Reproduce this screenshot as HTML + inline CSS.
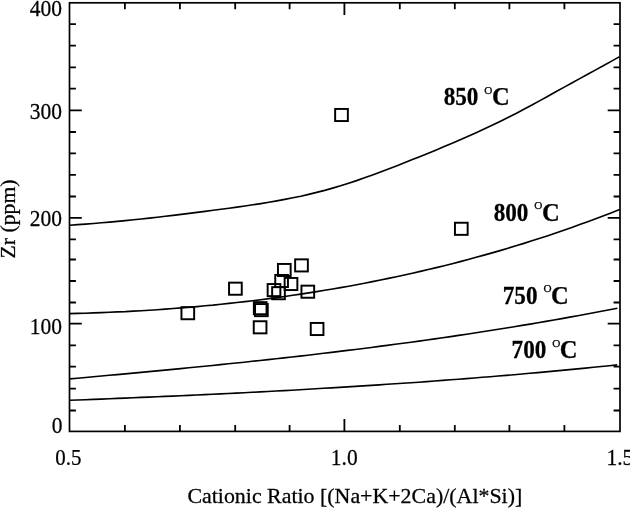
<!DOCTYPE html><html><head><meta charset="utf-8"><title>Zr vs Cationic Ratio</title>
<style>html,body{margin:0;padding:0;background:#fff;}svg{display:block;}text{font-family:"Liberation Serif",serif;fill:#000;stroke:#000;stroke-width:0.25px;}</style></head><body>
<svg width="630" height="508" viewBox="0 0 630 508">
<rect width="630" height="508" fill="#fff"/>
<rect x="69.5" y="2.8" width="550.5" height="428.59999999999997" fill="none" stroke="#000" stroke-width="1.7"/>
<path d="M69.5,410.50h6.4M620.0,410.50h-6.4M69.5,388.60h6.4M620.0,388.60h-6.4M69.5,366.60h6.4M620.0,366.60h-6.4M69.5,345.30h6.4M620.0,345.30h-6.4M69.5,323.60h12.3M620.0,323.60h-12.3M69.5,302.50h6.4M620.0,302.50h-6.4M69.5,281.00h6.4M620.0,281.00h-6.4M69.5,259.50h6.4M620.0,259.50h-6.4M69.5,239.30h6.4M620.0,239.30h-6.4M69.5,217.90h12.3M620.0,217.90h-12.3M69.5,196.50h6.4M620.0,196.50h-6.4M69.5,174.90h6.4M620.0,174.90h-6.4M69.5,153.30h6.4M620.0,153.30h-6.4M69.5,132.00h6.4M620.0,132.00h-6.4M69.5,110.30h12.3M620.0,110.30h-12.3M69.5,88.70h6.4M620.0,88.70h-6.4M69.5,67.40h6.4M620.0,67.40h-6.4M69.5,45.70h6.4M620.0,45.70h-6.4M69.5,24.20h6.4M620.0,24.20h-6.4M124.90,431.4v-6.4M124.90,2.8v6.4M179.90,431.4v-6.4M179.90,2.8v6.4M235.20,431.4v-6.4M235.20,2.8v6.4M289.60,431.4v-6.4M289.60,2.8v6.4M344.40,431.4v-12.3M344.40,2.8v12.3M399.80,431.4v-6.4M399.80,2.8v6.4M454.80,431.4v-6.4M454.80,2.8v6.4M509.40,431.4v-6.4M509.40,2.8v6.4M564.40,431.4v-6.4M564.40,2.8v6.4" fill="none" stroke="#000" stroke-width="1.8"/>
<path d="M69.6,225.2 L77.6,224.6 L85.5,224.1 L93.5,223.5 L101.5,222.8 L109.5,222.1 L117.4,221.4 L125.4,220.6 L133.4,219.8 L141.3,219.0 L149.3,218.1 L157.3,217.2 L165.3,216.3 L173.2,215.4 L181.2,214.4 L189.2,213.4 L197.1,212.4 L205.1,211.4 L213.1,210.3 L221.0,209.3 L229.0,208.2 L237.0,207.1 L245.0,206.0 L252.9,204.8 L260.9,203.6 L268.9,202.3 L276.8,200.9 L284.8,199.4 L292.8,197.8 L300.8,196.2 L308.7,194.4 L316.7,192.4 L324.7,190.4 L332.6,188.1 L340.6,185.8 L348.6,183.2 L356.6,180.6 L364.5,177.8 L372.5,175.0 L380.5,172.0 L388.4,169.0 L396.4,165.9 L404.4,162.8 L412.4,159.6 L420.3,156.4 L428.3,153.2 L436.3,149.9 L444.2,146.6 L452.2,143.2 L460.2,139.8 L468.2,136.3 L476.1,132.7 L484.1,129.0 L492.1,125.3 L500.0,121.4 L508.0,117.4 L516.0,113.4 L523.9,109.2 L531.9,105.0 L539.9,100.6 L547.9,96.2 L555.8,91.8 L563.8,87.4 L571.8,83.0 L579.7,78.6 L587.7,74.3 L595.7,69.9 L603.7,65.5 L611.6,61.1 L619.6,56.6" fill="none" stroke="#000" stroke-width="1.65" stroke-linejoin="round"/>
<path d="M69.6,313.6 L77.6,313.4 L85.5,313.2 L93.5,312.9 L101.5,312.6 L109.5,312.3 L117.4,311.9 L125.4,311.6 L133.4,311.1 L141.3,310.7 L149.3,310.2 L157.3,309.7 L165.3,309.1 L173.2,308.5 L181.2,307.9 L189.2,307.3 L197.1,306.6 L205.1,305.8 L213.1,305.1 L221.0,304.2 L229.0,303.4 L237.0,302.5 L245.0,301.6 L252.9,300.7 L260.9,299.7 L268.9,298.6 L276.8,297.6 L284.8,296.5 L292.8,295.3 L300.8,294.1 L308.7,292.9 L316.7,291.6 L324.7,290.3 L332.6,289.0 L340.6,287.6 L348.6,286.2 L356.6,284.7 L364.5,283.2 L372.5,281.6 L380.5,280.0 L388.4,278.4 L396.4,276.7 L404.4,275.0 L412.4,273.2 L420.3,271.4 L428.3,269.5 L436.3,267.6 L444.2,265.7 L452.2,263.7 L460.2,261.6 L468.2,259.5 L476.1,257.3 L484.1,255.1 L492.1,252.9 L500.0,250.6 L508.0,248.2 L516.0,245.8 L523.9,243.4 L531.9,240.8 L539.9,238.3 L547.9,235.7 L555.8,233.0 L563.8,230.2 L571.8,227.5 L579.7,224.6 L587.7,221.7 L595.7,218.8 L603.7,215.7 L611.6,212.7 L619.6,209.5" fill="none" stroke="#000" stroke-width="1.65" stroke-linejoin="round"/>
<path d="M69.6,378.9 L77.5,378.2 L85.5,377.5 L93.4,376.7 L101.4,376.0 L109.3,375.3 L117.2,374.6 L125.2,373.9 L133.1,373.1 L141.1,372.4 L149.0,371.6 L156.9,370.9 L164.9,370.1 L172.8,369.4 L180.7,368.6 L188.7,367.8 L196.6,367.0 L204.6,366.3 L212.5,365.5 L220.4,364.6 L228.4,363.8 L236.3,363.0 L244.3,362.2 L252.2,361.3 L260.1,360.5 L268.1,359.6 L276.0,358.8 L284.0,357.9 L291.9,357.0 L299.8,356.1 L307.8,355.2 L315.7,354.3 L323.7,353.3 L331.6,352.4 L339.5,351.4 L347.5,350.4 L355.4,349.5 L363.3,348.5 L371.3,347.5 L379.2,346.4 L387.2,345.4 L395.1,344.3 L403.0,343.3 L411.0,342.2 L418.9,341.1 L426.9,340.0 L434.8,338.9 L442.7,337.7 L450.7,336.6 L458.6,335.4 L466.6,334.2 L474.5,333.0 L482.4,331.8 L490.4,330.5 L498.3,329.3 L506.3,328.0 L514.2,326.7 L522.1,325.4 L530.1,324.1 L538.0,322.7 L545.9,321.4 L553.9,320.0 L561.8,318.6 L569.8,317.1 L577.7,315.7 L585.6,314.2 L593.6,312.7 L601.5,311.2 L609.5,309.7 L617.4,308.2" fill="none" stroke="#000" stroke-width="1.65" stroke-linejoin="round"/>
<path d="M69.6,400.3 L77.5,400.0 L85.5,399.7 L93.4,399.4 L101.3,399.1 L109.3,398.8 L117.2,398.4 L125.2,398.1 L133.1,397.8 L141.0,397.4 L149.0,397.1 L156.9,396.8 L164.8,396.4 L172.8,396.1 L180.7,395.7 L188.6,395.4 L196.6,395.0 L204.5,394.6 L212.5,394.2 L220.4,393.9 L228.3,393.5 L236.3,393.1 L244.2,392.7 L252.1,392.3 L260.1,391.9 L268.0,391.5 L275.9,391.0 L283.9,390.6 L291.8,390.2 L299.8,389.7 L307.7,389.3 L315.6,388.8 L323.6,388.3 L331.5,387.9 L339.4,387.4 L347.4,386.9 L355.3,386.4 L363.2,385.9 L371.2,385.4 L379.1,384.9 L387.0,384.3 L395.0,383.8 L402.9,383.3 L410.9,382.7 L418.8,382.2 L426.7,381.6 L434.7,381.0 L442.6,380.4 L450.5,379.8 L458.5,379.2 L466.4,378.6 L474.3,378.0 L482.3,377.3 L490.2,376.7 L498.2,376.0 L506.1,375.4 L514.0,374.7 L522.0,374.0 L529.9,373.3 L537.8,372.6 L545.8,371.9 L553.7,371.1 L561.6,370.4 L569.6,369.6 L577.5,368.9 L585.5,368.1 L593.4,367.3 L601.3,366.5 L609.3,365.7 L617.2,364.9" fill="none" stroke="#000" stroke-width="1.65" stroke-linejoin="round"/>
<rect x="335.15" y="108.95" width="12.7" height="12.1" fill="none" stroke="#000" stroke-width="1.95"/>
<rect x="181.45" y="307.15" width="12.7" height="12.1" fill="none" stroke="#000" stroke-width="1.95"/>
<rect x="229.05" y="282.65" width="12.7" height="12.1" fill="none" stroke="#000" stroke-width="1.95"/>
<rect x="277.95" y="263.95" width="12.7" height="12.1" fill="none" stroke="#000" stroke-width="1.95"/>
<rect x="295.15" y="259.35" width="12.7" height="12.1" fill="none" stroke="#000" stroke-width="1.95"/>
<rect x="275.25" y="274.95" width="12.7" height="12.1" fill="none" stroke="#000" stroke-width="1.95"/>
<rect x="284.65" y="277.95" width="12.7" height="12.1" fill="none" stroke="#000" stroke-width="1.95"/>
<rect x="267.65" y="284.05" width="12.7" height="12.1" fill="none" stroke="#000" stroke-width="1.95"/>
<rect x="272.15" y="287.15" width="12.7" height="12.1" fill="none" stroke="#000" stroke-width="1.95"/>
<rect x="301.45" y="285.65" width="12.7" height="12.1" fill="none" stroke="#000" stroke-width="1.95"/>
<rect x="253.85" y="302.15" width="12.7" height="12.1" fill="none" stroke="#000" stroke-width="1.95"/>
<rect x="255.05" y="304.05" width="12.7" height="12.1" fill="none" stroke="#000" stroke-width="1.95"/>
<rect x="253.75" y="321.25" width="12.7" height="12.1" fill="none" stroke="#000" stroke-width="1.95"/>
<rect x="310.75" y="322.95" width="12.7" height="12.1" fill="none" stroke="#000" stroke-width="1.95"/>
<rect x="454.95" y="222.75" width="12.7" height="12.1" fill="none" stroke="#000" stroke-width="1.95"/>
<text transform="translate(62.0,15.7) scale(0.935,1)" font-size="23" text-anchor="end">400</text>
<text transform="translate(62.0,118.5) scale(0.935,1)" font-size="23" text-anchor="end">300</text>
<text transform="translate(62.0,226.0) scale(0.935,1)" font-size="23" text-anchor="end">200</text>
<text transform="translate(62.0,333.8) scale(0.935,1)" font-size="23" text-anchor="end">100</text>
<text transform="translate(62.4,433.4) scale(0.935,1)" font-size="23" text-anchor="end">0</text>
<text transform="translate(55.3,464.8) scale(0.91,1)" font-size="23">0.5</text>
<text transform="translate(344.3,464.6) scale(0.935,1)" font-size="23" text-anchor="middle">1.0</text>
<text transform="translate(606.4,464.8) scale(0.935,1)" font-size="23">1.5</text>
<text transform="translate(187.4,503.0) scale(1.064,1)" font-size="20.6">Cationic Ratio [(Na+K+2Ca)/(Al*Si)]</text>
<text transform="translate(14.6,258.4) rotate(-90) scale(1.085,1)" font-size="20">Zr (ppm)</text>
<g font-weight="bold"><text transform="translate(443.7,104.9) scale(0.945,1)" font-size="24.5">850</text><text transform="translate(491.90000000000003,104.9) scale(1,1)" font-size="24.5">C</text></g>
<text transform="translate(484.3,93.60000000000001) scale(1,1)" font-size="11.2">O</text>
<g font-weight="bold"><text transform="translate(493.7,220.6) scale(0.945,1)" font-size="24.5">800</text><text transform="translate(541.9,220.6) scale(1,1)" font-size="24.5">C</text></g>
<text transform="translate(534.3000000000001,209.29999999999998) scale(1,1)" font-size="11.2">O</text>
<g font-weight="bold"><text transform="translate(502.79999999999995,303.6) scale(0.945,1)" font-size="24.5">750</text><text transform="translate(551.0,303.6) scale(1,1)" font-size="24.5">C</text></g>
<text transform="translate(543.4,292.3) scale(1,1)" font-size="11.2">O</text>
<g font-weight="bold"><text transform="translate(511.6,357.9) scale(0.945,1)" font-size="24.5">700</text><text transform="translate(559.8000000000001,357.9) scale(1,1)" font-size="24.5">C</text></g>
<text transform="translate(552.2,346.59999999999997) scale(1,1)" font-size="11.2">O</text>
</svg></body></html>
